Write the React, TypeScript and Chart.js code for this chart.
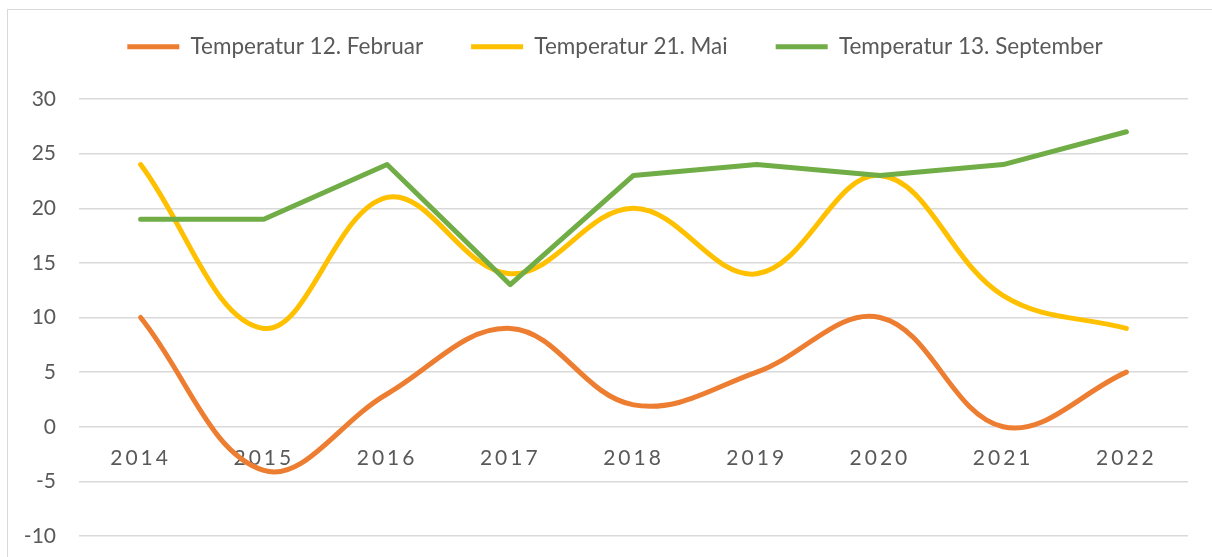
import React, { useEffect, useRef } from 'react';
import { Chart, registerables } from 'chart.js';

Chart.register(...registerables);

const years = ['2014', '2015', '2016', '2017', '2018', '2019', '2020', '2021', '2022'];
const seriesNames = ['Temperatur 12. Februar', 'Temperatur 21. Mai', 'Temperatur 13. September'];
const tempFeb = [10, -4, 3, 9, 2, 5, 10, 0, 5];
const tempMai = [24, 9, 21, 14, 20, 14, 23, 12, 9];
const tempSep = [19, 19, 24, 13, 23, 24, 23, 24, 27];
const yMin = -10;
const yMax = 30;
const yStep = 5;

const TEXT = '#595959';
const GRID = '#d9d9d9';
const LEGEND_HEIGHT = 111.5;
const LEGEND_SHIFT_LEFT = 42;

const legendFitPlugin = {
  id: 'legendFit',
  beforeLayout(chart: any) {
    const lg = chart.legend;
    if (lg && !lg._fitPatched) {
      const orig = lg.fit;
      lg.fit = function () {
        orig.call(this);
        this.height = LEGEND_HEIGHT;
      };
      lg._fitPatched = true;
    }
  },
  afterLayout(chart: any) {
    const lg = chart.legend;
    if (lg) {
      lg.left = LEGEND_SHIFT_LEFT;
    }
  },
};

const letterSpacingPlugin = {
  id: 'xLetterSpacing',
  beforeDraw(chart: any) {
    const sx = chart.scales.x;
    if (sx && !sx._lsPatched) {
      const orig = sx.drawLabels;
      sx.drawLabels = function (area: any) {
        const ctx = this.ctx;
        ctx.save();
        ctx.letterSpacing = '3px';
        orig.call(this, area);
        ctx.restore();
      };
      sx._lsPatched = true;
    }
  },
};

export default function App() {
  const ref = useRef<HTMLCanvasElement | null>(null);

  useEffect(() => {
    if (!ref.current) return;
    Chart.defaults.font.family = 'Lato';
    Chart.defaults.font.size = 21;
    Chart.defaults.color = TEXT;
    const common = {
      borderWidth: 5,
      borderCapStyle: 'round' as const,
      borderJoinStyle: 'round' as const,
      pointRadius: 0,
      fill: false,
    };
    const chart = new Chart(ref.current, {
      type: 'line',
      data: {
        labels: years,
        datasets: [
          { ...common, label: seriesNames[0], data: tempFeb, borderColor: '#ED7D31', backgroundColor: '#ED7D31', tension: 0.38, order: 2 },
          { ...common, label: seriesNames[1], data: tempMai, borderColor: '#FFC000', backgroundColor: '#FFC000', tension: 0.38, order: 1 },
          { ...common, label: seriesNames[2], data: tempSep, borderColor: '#70AD47', backgroundColor: '#70AD47', tension: 0, order: 0 },
        ],
      },
      options: {
        responsive: false,
        animation: false,
        layout: { padding: { left: 0, right: 24, top: -12.5, bottom: 21 } },
        scales: {
          x: {
            type: 'category',
            offset: true,
            position: { y: 0 } as any,
            grid: { display: false, drawTicks: false },
            border: { display: false },
            ticks: { padding: 19, color: TEXT, font: { size: 21, family: 'Lato' }, maxRotation: 0, autoSkip: false },
          },
          y: {
            min: yMin,
            max: yMax,
            ticks: { stepSize: yStep, padding: 23, color: TEXT, font: { size: 21, family: 'Lato' } },
            grid: { color: GRID, lineWidth: 1.5, drawTicks: false },
            border: { display: false },
            afterFit(scale: any) {
              scale.width = 79;
              scale.paddingBottom = 0;
              scale.paddingTop = 0;
            },
          },
        },
        plugins: {
          tooltip: { enabled: false },
          legend: {
            display: true,
            position: 'top',
            align: 'center',
            labels: {
              usePointStyle: true,
              pointStyle: 'line',
              pointStyleWidth: 52,
              padding: 48,
              color: TEXT,
              font: { size: 22.5, family: 'Lato' },
              sort: (a: any, b: any) => a.datasetIndex - b.datasetIndex,
            },
          },
        },
      },
      plugins: [legendFitPlugin, letterSpacingPlugin],
    });
    return () => chart.destroy();
  }, []);

  return (
    <div style={{ position: 'fixed', left: 0, top: 0, width: '100vw', height: '100vh', overflow: 'hidden', background: '#fff' }}>
      <div
        style={{
          position: 'absolute',
          left: 7,
          top: 9,
          width: 1240,
          height: 600,
          border: '1.5px solid #d9d9d9',
          boxSizing: 'border-box',
        }}
      />
      <canvas ref={ref} width={1212} height={557} style={{ position: 'absolute', left: 0, top: 0, width: 1212, height: 557 }} />
    </div>
  );
}
